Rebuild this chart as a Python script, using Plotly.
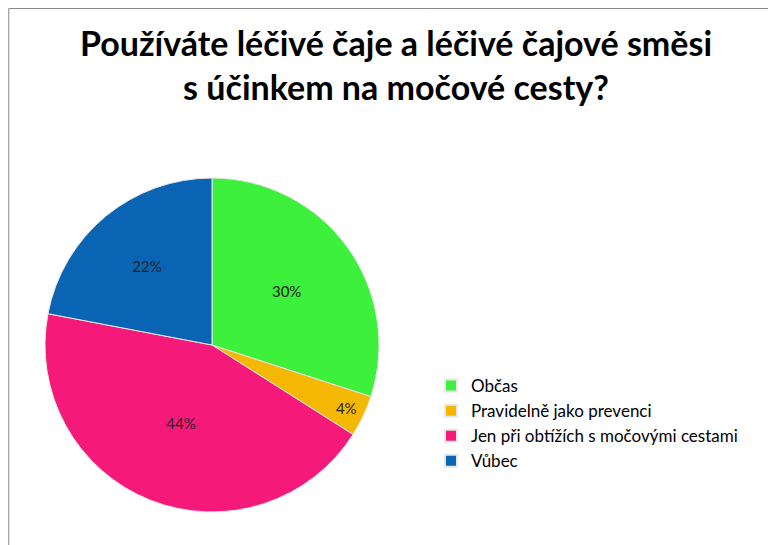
import plotly.graph_objects as go

labels = ["Občas", "Pravidelně jako prevenci", "Jen při obtížích s močovými cestami", "Vůbec"]
values = [30, 4, 44, 22]
colors = ["#3cf03c", "#f5b800", "#f5197a", "#0a64b4"]

fig = go.Figure(go.Pie(
    labels=labels, values=values, sort=False, direction="clockwise", rotation=0,
    marker=dict(colors=colors, line=dict(color="#e8e8e8", width=1)),
    textinfo="percent", texttemplate="%{percent:.0%}", textposition="inside",
    insidetextorientation="horizontal",
    textfont=dict(family="Lato, Open Sans, sans-serif", size=15, color="#222"),
    domain=dict(x=[37/776, 371/776], y=[1-504/545, 1-170/545]),
))
fig.update_layout(
    width=776, height=545, paper_bgcolor="white", plot_bgcolor="white",
    margin=dict(l=0, r=0, t=0, b=0),
    title=dict(text="<b>Používáte léčivé čaje a léčivé čajové směsi<br>s účinkem na močové cesty?</b>",
               x=0.5, xanchor="center", y=1-48/545, yanchor="top",
               font=dict(family="Lato, Open Sans, sans-serif", size=34, color="black")),
    legend=dict(x=423/776, y=1-360/545, xanchor="left", yanchor="top",
                font=dict(family="Lato, Open Sans, sans-serif", size=17, color="black"),
                itemsizing="constant", tracegroupgap=0),
    shapes=[dict(type="rect", xref="paper", yref="paper", x0=0.001, y0=0.001, x1=0.999, y1=0.999,
                 line=dict(color="#888", width=1))],
)
fig.write_html("out.html")
